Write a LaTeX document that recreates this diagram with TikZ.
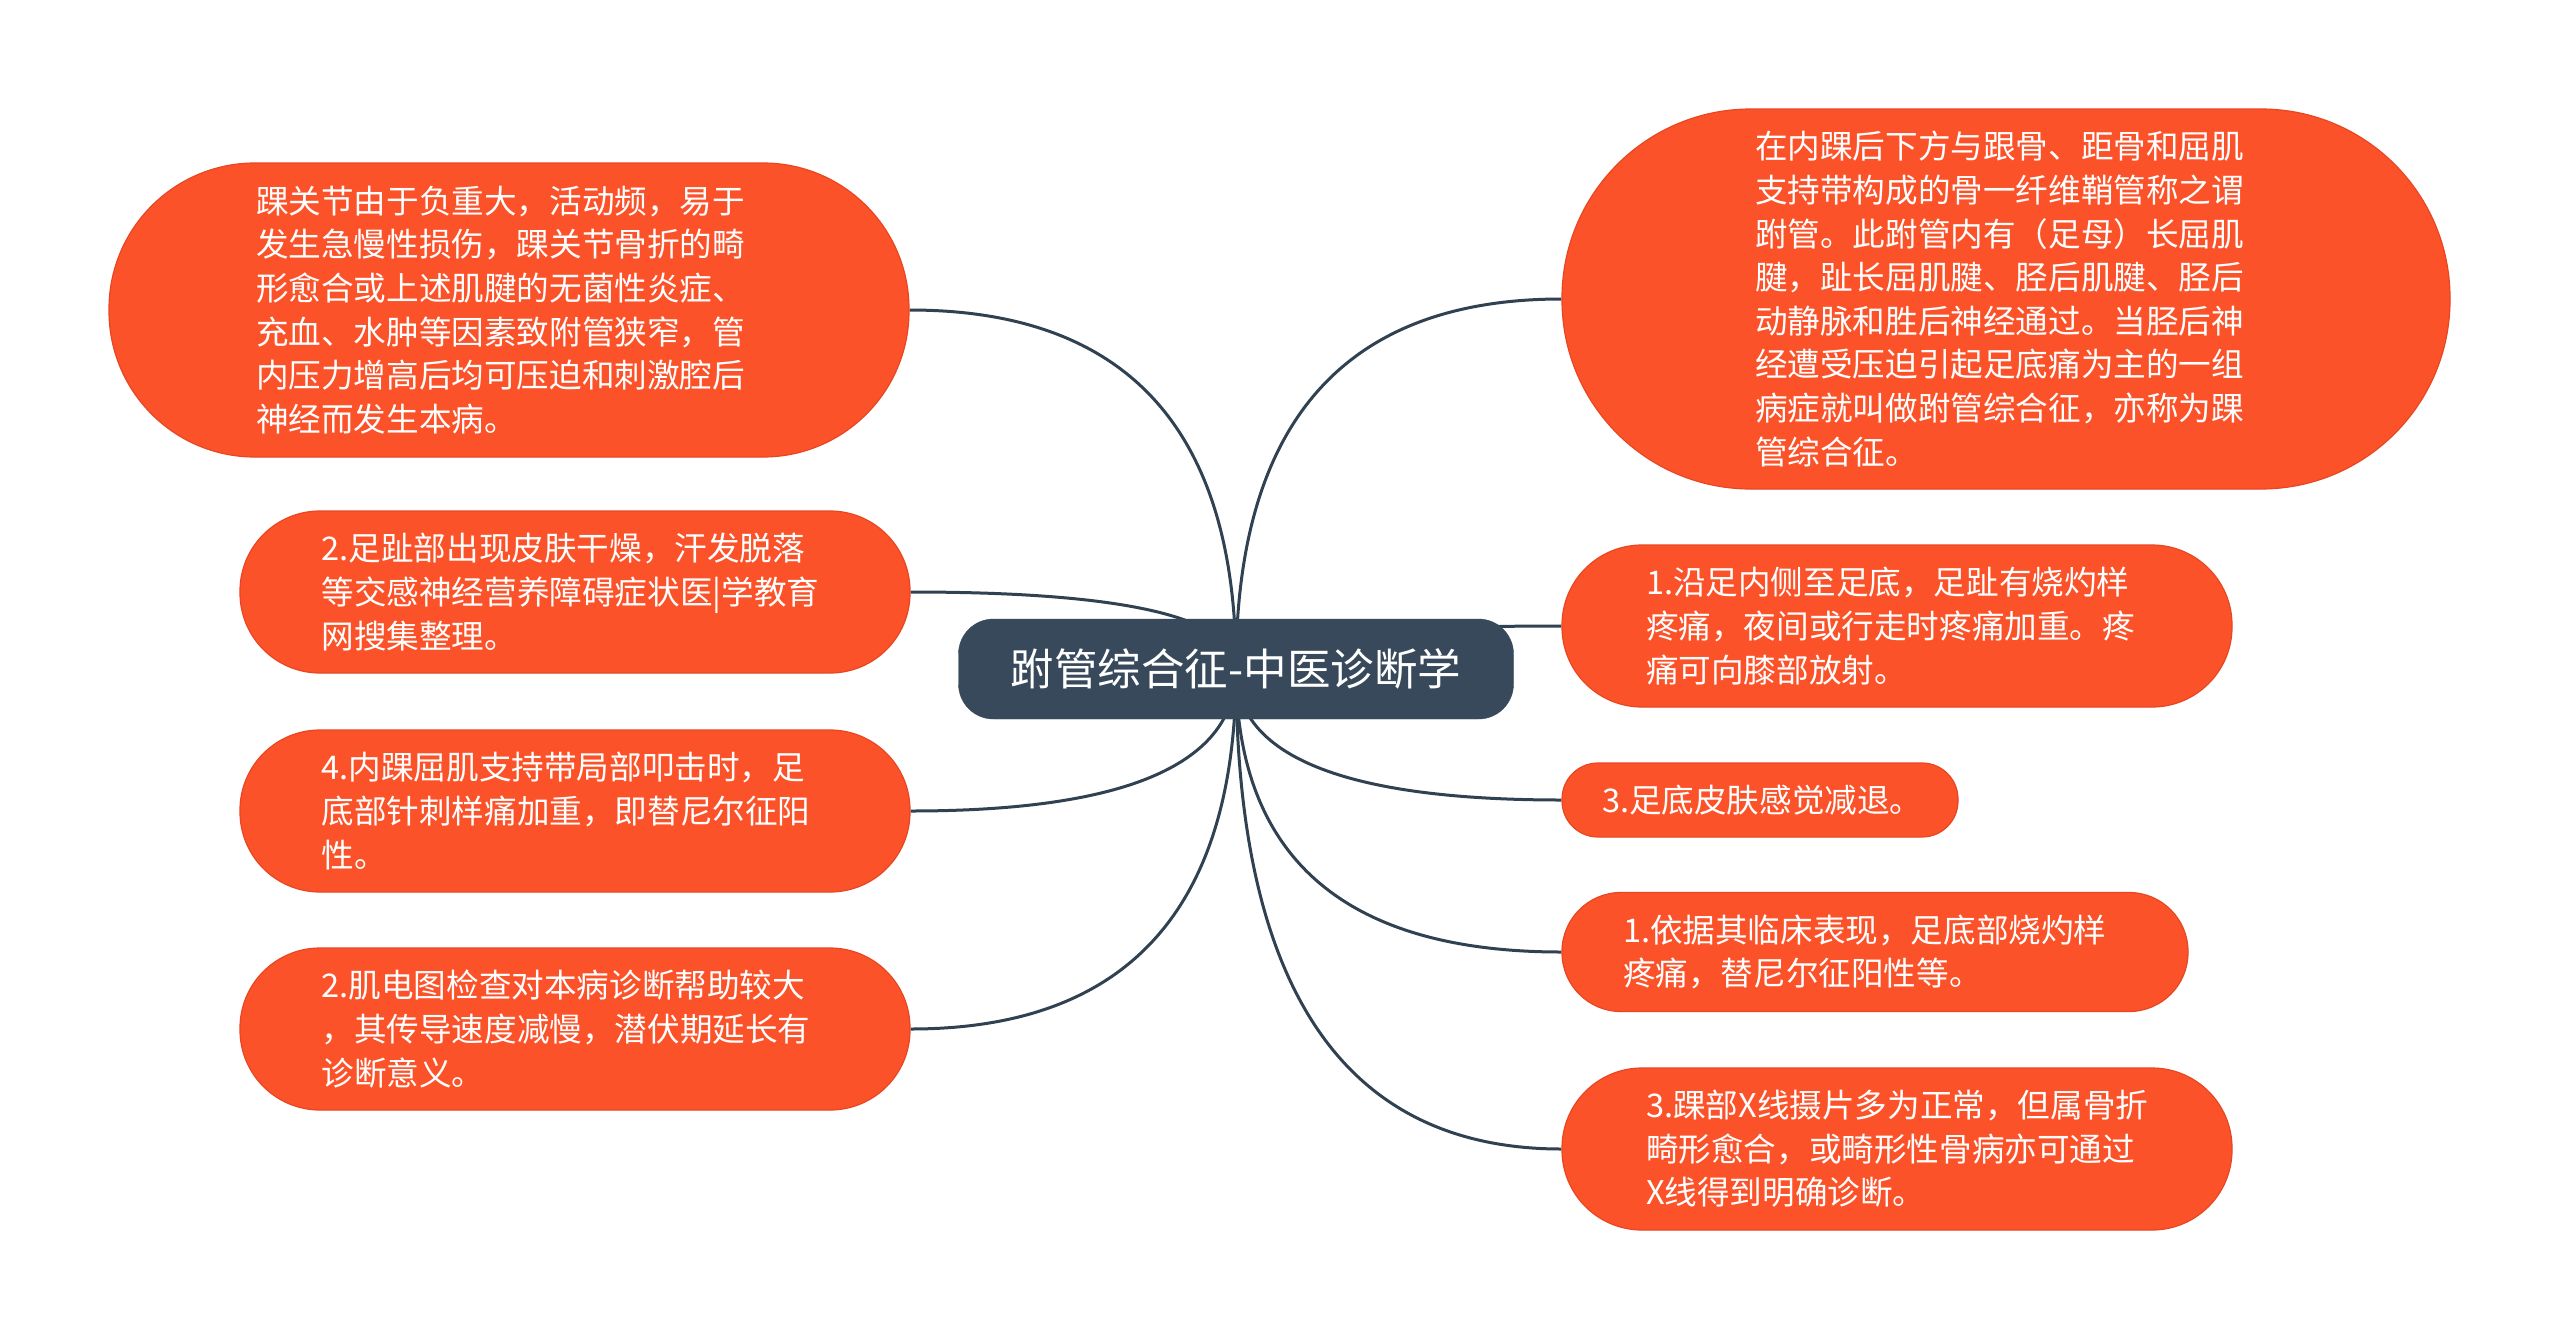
\documentclass[tikz,border=0pt]{standalone}
\usepackage{fontspec}
\setmainfont{Noto Sans CJK SC}
\usetikzlibrary{calc}
\definecolor{leafc}{RGB}{252,82,41}
\definecolor{leafe}{RGB}{232,70,34}
\definecolor{rootc}{RGB}{55,73,90}
\definecolor{linec}{RGB}{48,66,82}
\pgfdeclarelayer{bg}
\pgfsetlayers{bg,main}
\begin{document}
\begin{tikzpicture}[x=1pt,y=-1pt,
  leaf/.style={fill=leafc, draw=leafe, line width=1.2pt, text=white, align=left,
    inner sep=0pt, font=\fontsize{32.6}{43.6}\selectfont},
  rootnode/.style={fill=rootc, draw=rootc, text=white, inner sep=0pt,
    minimum width=555pt, minimum height=100pt, rounded corners=35pt,
    font=\fontsize{43.5}{50}\selectfont},
  conn/.style={draw=linec, line width=3pt}]
\begin{pgfonlayer}{bg}
\fill[white] (0,0) rectangle (2560,1339);
\end{pgfonlayer}
\useasboundingbox (0,0) rectangle (2560,1339);

\node[rootnode] (root) at (1236,669) {跗管综合征-中医诊断学};

\node[leaf, text width=506pt, minimum width=800pt, minimum height=294pt, rounded corners=146pt] (l1) at (509,310)
 {踝关节由于负重大，活动频，易于\\发生急慢性损伤，踝关节骨折的畸\\形愈合或上述肌腱的无菌性炎症、\\充血、水肿等因素致附管狭窄，管\\内压力增高后均可压迫和刺激腔后\\神经而发生本病。};
\node[leaf, text width=507pt, minimum width=670pt, minimum height=162pt, rounded corners=80pt] (l2) at (575,592)
 {2.足趾部出现皮肤干燥，汗发脱落\\等交感神经营养障碍症状医|学教育\\网搜集整理。};
\node[leaf, text width=507pt, minimum width=670pt, minimum height=162pt, rounded corners=80pt] (l3) at (575,811)
 {4.内踝屈肌支持带局部叩击时，足\\底部针刺样痛加重，即替尼尔征阳\\性。};
\node[leaf, text width=507pt, minimum width=670pt, minimum height=162pt, rounded corners=80pt] (l4) at (575,1029)
 {2.肌电图检查对本病诊断帮助较大\\，其传导速度减慢，潜伏期延长有\\诊断意义。};

\node[leaf, text width=502pt, minimum width=888pt, minimum height=380pt, rounded corners=189pt] (r1) at (2006,299)
 {在内踝后下方与跟骨、距骨和屈肌\\支持带构成的骨一纤维鞘管称之谓\\跗管。此跗管内有（足母）长屈肌\\腱，趾长屈肌腱、胫后肌腱、胫后\\动静脉和胜后神经通过。当胫后神\\经遭受压迫引起足底痛为主的一组\\病症就叫做跗管综合征，亦称为踝\\管综合征。};
\node[leaf, text width=502pt, minimum width=670pt, minimum height=162pt, rounded corners=80pt] (r2) at (1897,626)
 {1.沿足内侧至足底，足趾有烧灼样\\疼痛，夜间或行走时疼痛加重。疼\\痛可向膝部放射。};
\node[leaf, text width=316pt, minimum width=396pt, minimum height=74pt, rounded corners=36pt] (r3) at (1760,800)
 {3.足底皮肤感觉减退。};
\node[leaf, text width=504pt, minimum width=626pt, minimum height=119pt, rounded corners=59pt] (r4) at (1875,952)
 {1.依据其临床表现，足底部烧灼样\\疼痛，替尼尔征阳性等。};
\node[leaf, text width=502pt, minimum width=670pt, minimum height=162pt, rounded corners=80pt] (r5) at (1897,1149)
 {3.踝部X线摄片多为正常，但属骨折\\畸形愈合，或畸形性骨病亦可通过\\X线得到明确诊断。};

\begin{pgfonlayer}{bg}
\foreach \n/\a in {l1/east,l2/east,l3/east,l4/east,r1/west,r2/west,r3/west,r4/west,r5/west}{
  \coordinate (k) at (root.center |- \n.\a);
  \draw[conn] (root.center) .. controls ($(root.center)!0.6667!(k)$) and ($(\n.\a)!0.6667!(k)$) .. (\n.\a);
}
\end{pgfonlayer}
\end{tikzpicture}
\end{document}
